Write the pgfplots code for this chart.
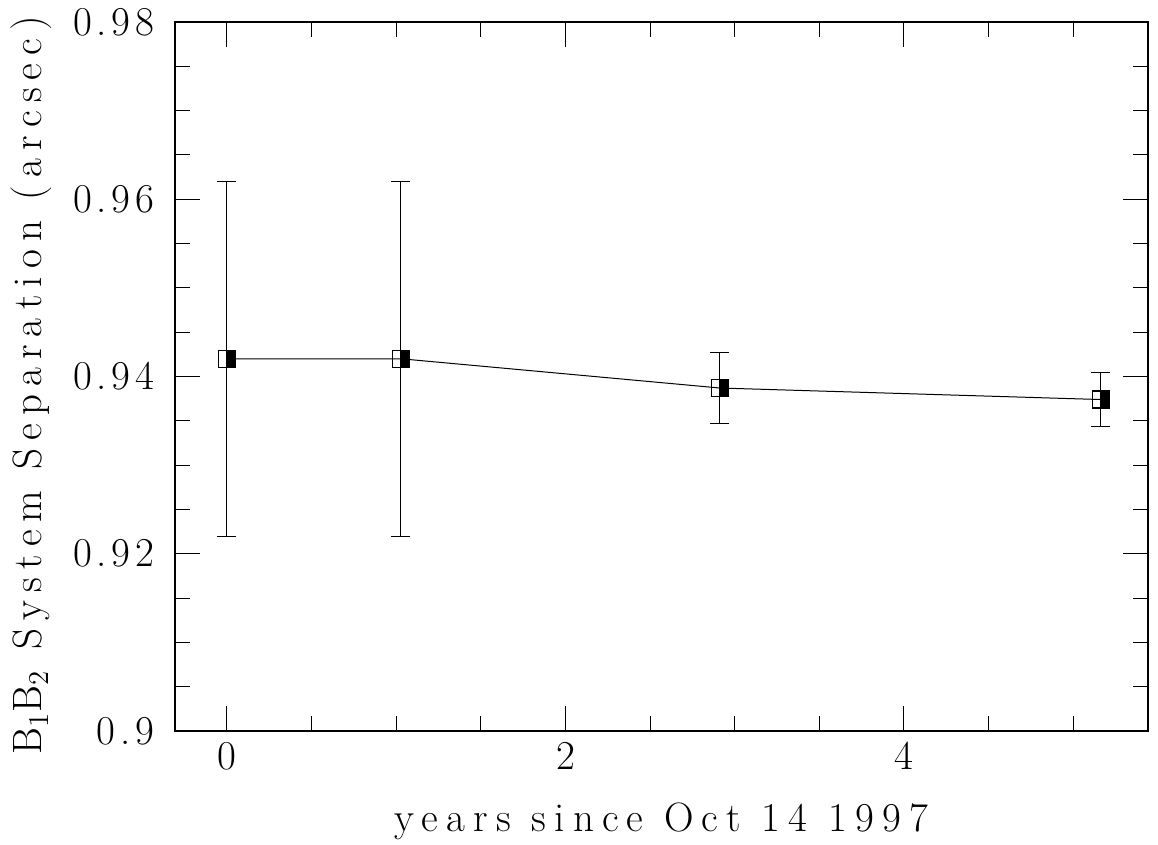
\documentclass[border=0pt]{standalone}
\usepackage{fontspec}
\setmainfont{Latin Modern Roman}[LetterSpace=20]
\newfontfamily\tickfont{Latin Modern Roman}[LetterSpace=12]
\usepackage{pgfplots}
\pgfplotsset{compat=1.18}
\pgfdeclareplotmark{halfsq}{%
  \pgfpathrectangle{\pgfpoint{0pt}{-\pgfplotmarksize}}{\pgfpoint{\pgfplotmarksize}{2\pgfplotmarksize}}%
  \pgfusepath{fill}%
  \pgfpathrectangle{\pgfpoint{-\pgfplotmarksize}{-\pgfplotmarksize}}{\pgfpoint{2\pgfplotmarksize}{2\pgfplotmarksize}}%
  \pgfusepath{stroke}}
\pgfplotstableread{
x y ey
0 0.942 0.020
1.028 0.942 0.020
2.913 0.9387 0.0040
5.164 0.9374 0.0030
}\sepdata
\begin{document}
\begin{tikzpicture}
\path[use as bounding box] (-87.5pt,-57pt) rectangle (491.5pt,365.5pt);
\begin{axis}[
  scale only axis, width=486.5pt, height=354.5pt,
  xmin=-0.307, xmax=5.442, ymin=0.9, ymax=0.98,
  xtick={0,2,4}, xticklabels={0,2,4},
  minor xtick={0.5,1,1.5,2.5,3,3.5,4.5,5},
  ytick={0.9,0.92,0.94,0.96,0.98},
  yticklabels={0.9,0.92,0.94,0.96,0.98},
  minor ytick={0.905,0.91,0.915,0.925,0.93,0.935,0.945,0.95,0.955,0.965,0.97,0.975},
  major tick length=12.5pt, minor tick length=7.5pt,
  axis line style={line width=0.6pt},
  every tick/.style={line width=0.5pt, black},
  tick label style={font=\tickfont\fontsize{20.5}{24}\selectfont},
  xticklabel style={anchor=north, inner sep=0pt, yshift=-5.5pt},
  yticklabel style={anchor=east, inner sep=0pt, xshift=-10pt},
  label style={font=\fontsize{20.5}{24}\selectfont},
  xlabel={years since Oct 14 1997},
  xlabel style={at={(axis description cs:0.5,-0.1424)}, anchor=base},
  ylabel={B$_1$B$_2$ System Separation (arcsec)},
  ylabel style={at={(axis description cs:-0.1367,0.488)}, anchor=base},
]
\addplot[black, line width=0.5pt, mark=halfsq, mark size=4.25pt,
  mark options={fill=black, line width=0.6pt},
  error bars/.cd, y dir=both, y explicit,
  error bar style={line width=0.5pt},
  error mark options={rotate=90, mark size=4.75pt, line width=0.5pt}]
  table[x=x, y=y, y error=ey] {\sepdata};
\end{axis}
\end{tikzpicture}
\end{document}
